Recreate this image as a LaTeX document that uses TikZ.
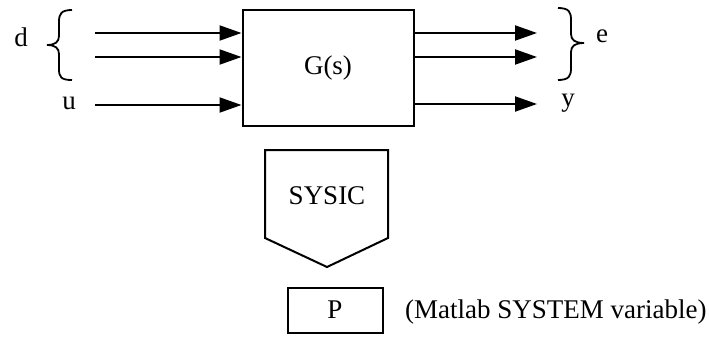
\documentclass[tikz,border=0pt]{standalone}
\usepackage{fontspec}
\setmainfont{Liberation Serif}
\usetikzlibrary{arrows.meta}
\begin{document}
\begin{tikzpicture}[x=1pt,y=-1pt,
  every node/.style={font=\fontsize{27}{30}\selectfont, inner sep=0pt},
  arr/.style={line width=2pt, -{Triangle[length=22pt,width=15pt]}},
  boxed/.style={draw, line width=2pt},
  bracepath/.style={line width=1.8pt}]
\useasboundingbox (0,0) rectangle (709,337);
% main block
\node[boxed, minimum width=171pt, minimum height=116pt] (G) at (328,68) {};
\node (Gt) at (G.center) {G(s)};
% inputs
\coordinate (d1) at (95,33);
\coordinate (d2) at (95,57);
\coordinate (u1) at (95,105);
\draw[arr] (d1) -- (d1 -| G.west);
\draw[arr] (d2) -- (d2 -| G.west);
\draw[arr] (u1) -- (u1 -| G.west);
% outputs
\coordinate (e1) at (537,33);
\coordinate (e2) at (537,57);
\coordinate (y1) at (537,104);
\draw[arr] (e1 -| G.east) -- (e1);
\draw[arr] (e2 -| G.east) -- (e2);
\draw[arr] (y1 -| G.east) -- (y1);
% left brace
\draw[bracepath] (72,10) .. controls (61,10) and (59,14) .. (59,22)
  -- (59,36) .. controls (59,42) and (55,45) .. (47,45)
  .. controls (55,45) and (59,48) .. (59,54)
  -- (59,69) .. controls (59,77) and (61,80) .. (72,80);
% right brace
\draw[bracepath] (558,8) .. controls (569,8) and (571,12) .. (571,20)
  -- (571,34) .. controls (571,40) and (575,43) .. (584,43)
  .. controls (575,43) and (571,46) .. (571,52)
  -- (571,68) .. controls (571,76) and (569,80) .. (558,80);
% labels
\node (dl) at (21,37) {d};
\node (ul) at (69,103) {u};
\node (el) at (602,36) {e};
\node (yl) at (568,103) {y};
% SYSIC pentagon
\coordinate (s1) at (265,150);
\coordinate (s2) at (388,150);
\coordinate (s3) at (388,238);
\coordinate (s4) at (327,267);
\coordinate (s5) at (265,238);
\draw[line width=2pt, line join=miter] (s1) -- (s2) -- (s3) -- (s4) -- (s5) -- cycle;
\node (sys) at (327,196) {SYSIC};
% P box
\node[boxed, minimum width=95pt, minimum height=45pt] (P) at (335,310) {P};
\node[anchor=west] (note) at (405,312) {(Matlab SYSTEM variable)};
\end{tikzpicture}
\end{document}
